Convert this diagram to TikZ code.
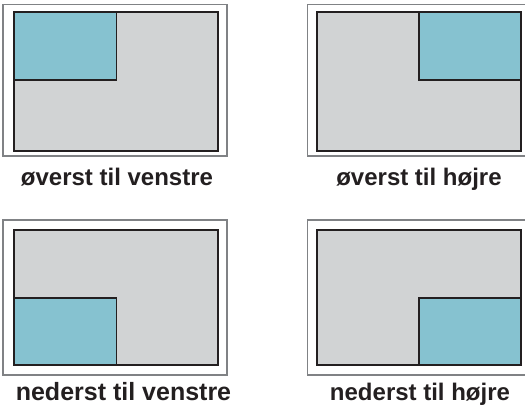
\documentclass[tikz,border=0pt]{standalone}
\usepackage{fontspec}
\setmainfont{Liberation Sans}
\definecolor{framegray}{HTML}{808285}
\definecolor{panelgray}{HTML}{D1D3D4}
\definecolor{paneltcyan}{HTML}{86C2D0}
\definecolor{edgedark}{HTML}{231F20}
\begin{document}
\begin{tikzpicture}[x=1pt,y=-1pt,
  outerframe/.style={draw=framegray,line width=1.6pt},
  innerpanel/.style={draw=edgedark,fill=panelgray,line width=1.8pt},
  quadrant/.style={draw=edgedark,fill=paneltcyan,line width=1.3pt},
  caption/.style={font=\bfseries\fontsize{24}{28}\selectfont,text=edgedark,inner sep=0pt,anchor=base}]
\useasboundingbox (0,0) rectangle (525,405);
% top left
\draw[outerframe] (3,4.5) rectangle (227,156);
\draw[innerpanel] (14,12) rectangle (218,151);
\draw[quadrant] (14,12) rectangle (116.5,80);
\draw[edgedark,line width=1.8pt] (14,12) rectangle (218,151);
\node[caption] (tl) at (117,185) {øverst til venstre};
% top right
\draw[outerframe] (307.5,4.5) rectangle (531,156);
\draw[innerpanel] (317,12) rectangle (521,151);
\draw[quadrant] (419,12) rectangle (521,80);
\draw[edgedark,line width=1.8pt] (317,12) rectangle (521,151);
\node[caption] (tr) at (419,185) {øverst til højre};
% bottom left
\draw[outerframe] (3,220) rectangle (227,375);
\draw[innerpanel] (14,230) rectangle (218,365);
\draw[quadrant] (14,298) rectangle (116.5,365);
\draw[edgedark,line width=1.8pt] (14,230) rectangle (218,365);
\node[caption,font=\bfseries\fontsize{25}{29}\selectfont] (bl) at (123.5,400) {nederst til venstre};
% bottom right
\draw[outerframe] (307.5,220) rectangle (531,375);
\draw[innerpanel] (317,230) rectangle (521,365);
\draw[quadrant] (419,298) rectangle (521,365);
\draw[edgedark,line width=1.8pt] (317,230) rectangle (521,365);
\node[caption] (br) at (420,400) {nederst til højre};
\end{tikzpicture}
\end{document}
